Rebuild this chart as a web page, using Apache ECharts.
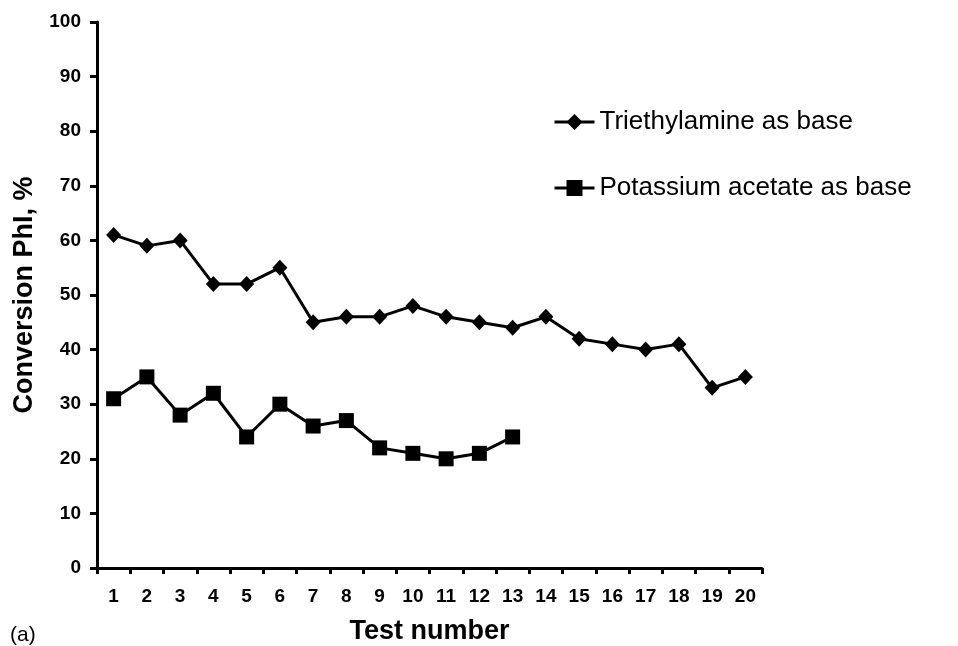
<!DOCTYPE html>
<html><head><meta charset="utf-8">
<script src="https://cdn.jsdelivr.net/npm/echarts@6/dist/echarts.min.js"></script>
<style>html,body{margin:0;padding:0;background:#fff}#c{width:958px;height:646px}</style>
</head><body><div id="c"></div>
<script>
const categories = ['1','2','3','4','5','6','7','8','9','10','11','12','13','14','15','16','17','18','19','20'];
const triethylamine = [61,59,60,52,52,55,45,46,46,48,46,45,44,46,42,41,40,41,33,35];
const potassiumAcetate = [31,35,28,32,24,30,26,27,22,21,20,21,24];
const seriesNames = ['Triethylamine as base','Potassium acetate as base'];

const chart = echarts.init(document.getElementById('c'));
const F = '"Liberation Sans", Arial, sans-serif';
chart.setOption({
  animation:false,
  backgroundColor:'#fff',
  grid:{left:97,right:196,top:22,bottom:78,outerBoundsMode:'none',containLabel:false},
  graphic:[{type:'text',left:10,top:625,style:{text:'(a)',font:'21px '+F,fill:'#000'}}],
  legend:{
    orient:'vertical', left:548, top:104, itemGap:40, itemWidth:40, itemHeight:20,
    data:seriesNames,
    lineStyle:{width:3,color:'#000'},
    textStyle:{fontFamily:F,fontSize:26,color:'#000'}
  },
  xAxis:{
    type:'category', data:categories, boundaryGap:true,
    name:'Test number', nameLocation:'middle', nameGap:50,
    nameTextStyle:{fontFamily:F,fontSize:27,fontWeight:'bold',color:'#000'},
    axisLine:{lineStyle:{color:'#000',width:3}},
    axisTick:{show:true,length:6,lineStyle:{color:'#000',width:3},alignWithLabel:false},
    axisLabel:{fontFamily:F,fontSize:19,fontWeight:'bold',color:'#000',margin:19,interval:0},
    splitLine:{show:false}
  },
  yAxis:{
    type:'value', min:0, max:100, interval:10,
    name:'Conversion PhI, %', nameLocation:'middle', nameGap:58,
    nameTextStyle:{fontFamily:F,fontSize:27,fontWeight:'bold',color:'#000'},
    axisLine:{show:true,lineStyle:{color:'#000',width:3}},
    axisTick:{show:true,length:7,lineStyle:{color:'#000',width:3}},
    axisLabel:{fontFamily:F,fontSize:19,fontWeight:'bold',color:'#000',margin:16},
    splitLine:{show:false}
  },
  series:[
    {name:seriesNames[0],type:'line',data:triethylamine,symbol:'diamond',symbolSize:[15,16],
     lineStyle:{color:'#000',width:3},itemStyle:{color:'#000'}},
    {name:seriesNames[1],type:'line',data:potassiumAcetate,symbol:'rect',symbolSize:15,
     lineStyle:{color:'#000',width:3},itemStyle:{color:'#000'}}
  ]
});
</script></body></html>
